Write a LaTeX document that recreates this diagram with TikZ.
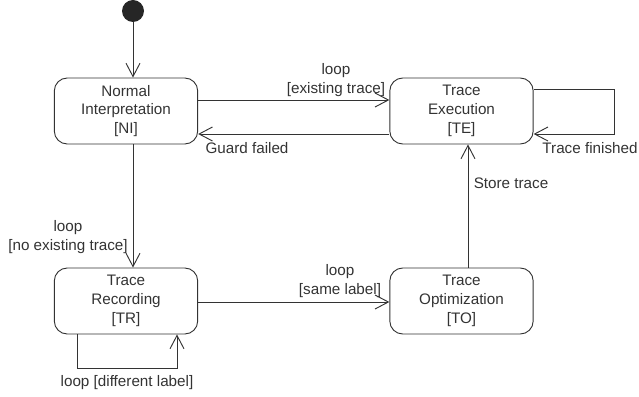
\documentclass[tikz,border=0pt]{standalone}
\usepackage{fontspec}
\setmainfont{Liberation Sans}
\usepackage{xcolor}
\usetikzlibrary{arrows.meta,positioning}
\definecolor{ink}{HTML}{333333}

\begin{document}
\begin{tikzpicture}[x=0.03cm, y=-0.03cm,
    every node/.style={text=ink, font=\fontsize{13}{16}\selectfont},
    state/.style={rectangle, draw=ink, line width=0.8pt, rounded corners=11pt, minimum width=4.3cm, minimum height=1.98cm, inner sep=0pt, align=center},
    lbl/.style={align=center, inner sep=0pt},
    arrow/.style={-{Straight Barb[length=4mm, width=4.2mm]}, draw=ink, line width=0.8pt}
]
    \useasboundingbox (0,0) rectangle (639,397);

    % States
    \node[circle, fill=black!85, minimum size=0.66cm, inner sep=0pt] (init) at (133,11) {};
    \node[state] (interp) at (126,111) {Normal\\Interpretation\\{[}NI]};
    \node[state] (exec) at (461.5,111) {Trace\\Execution\\{[}TE]};
    \node[state] (rec) at (126,301) {Trace\\Recording\\{[}TR]};
    \node[state] (optim) at (461.5,301) {Trace\\Optimization\\{[}TO]};

    % Transitions
    \draw[arrow] (init) -- (init |- interp.north);
    \draw[arrow] (interp.east |- 0,100) -- (exec.west |- 0,100);
    \draw[arrow] (exec.west |- 0,134) -- (interp.east |- 0,134);
    \draw[arrow] (exec.east |- 0,89) -| (614,134) -- (exec.east |- 0,134);
    \draw[arrow] (interp.south -| init) -- (rec.north -| init);
    \draw[arrow] (rec.east |- 0,302) -- (optim.west |- 0,302);
    \draw[arrow] (optim.north -| 468,0) -- (exec.south -| 468,0);
    \draw[arrow] (rec.south -| 77,0) |- (177,368) -- (rec.south -| 177,0);

    % Labels
    \node[lbl] (lexist) at (336,80) {loop\\{[}existing trace]};
    \node[lbl] (lguard) at (247,148) {Guard failed};
    \node[lbl] (lfinish) at (590,148) {Trace finished};
    \node[lbl] (lstore) at (511,183) {Store trace};
    \node[lbl] (lnoexist) at (68,237) {loop\\{[}no existing trace]};
    \node[lbl] (lsame) at (340,281) {loop\\{[}same label]};
    \node[lbl] (ldiff) at (127,383) {loop {[}different label]};
\end{tikzpicture}
\end{document}
